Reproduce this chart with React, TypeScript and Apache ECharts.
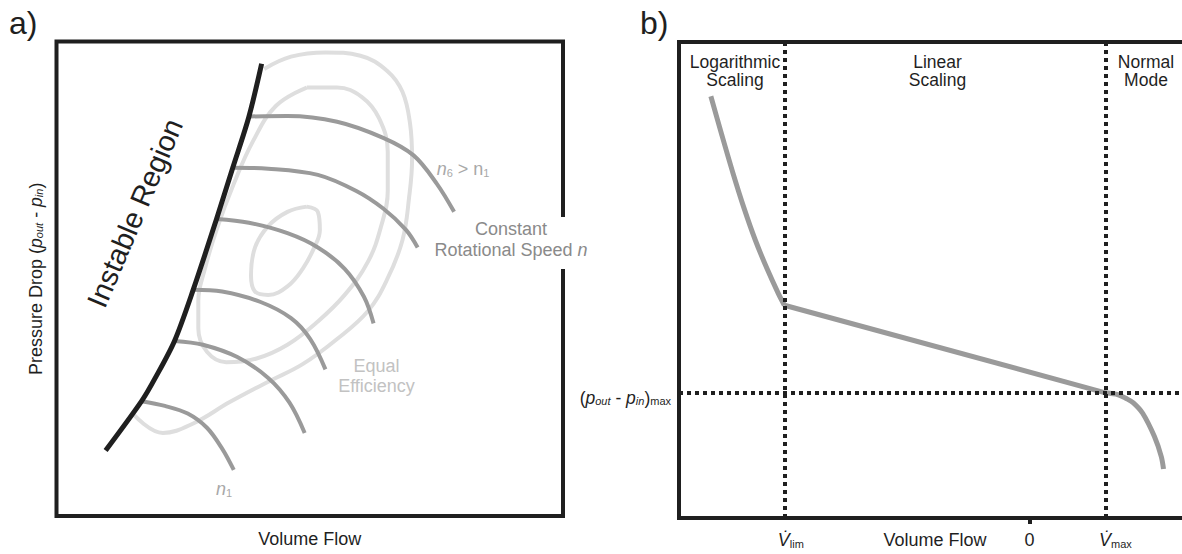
import React, { useEffect, useRef } from "react";
import * as echarts from "echarts";

const FONT = '"Liberation Sans", Arial, Helvetica, sans-serif';
const INK = "#1f1f1f";
const SPEED_GREY = "#9a9a9a";
const EFFICIENCY_GREY = "#dedede";

// ---- Panel a: compressor map (normalised volume flow 0–100, pressure drop 0–100)
const surgeLine: number[][] = [
  [40.5, 95.3], [38.0, 84.2], [34.8, 73.4], [31.6, 62.6], [27.0, 47.7],
  [23.3, 36.9], [19.5, 29.1], [16.8, 24.2], [9.7, 13.8],
];

const speedN1: number[][] = [[16.8, 24.2], [21.4, 23.2], [25.9, 21.6], [29.7, 18.6], [32.7, 14.2], [35.0, 9.7]];
const speedN2: number[][] = [[23.3, 36.9], [28.9, 36.1], [35.7, 33.5], [41.8, 29.1], [46.0, 23.9], [49.0, 17.5]];
const speedN3: number[][] = [[27.0, 47.7], [32.7, 47.3], [40.3, 45.1], [46.3, 41.7], [50.1, 37.3], [53.1, 30.9]];
const speedN4: number[][] = [[31.6, 62.6], [38.0, 61.8], [45.6, 59.6], [51.6, 56.6], [56.9, 52.1], [60.7, 46.2], [62.6, 40.6]];
const speedN5: number[][] = [[34.8, 73.4], [41.8, 73.2], [51.6, 71.9], [59.2, 68.5], [64.5, 64.8], [69.0, 60.3], [71.3, 56.6]];
const speedN6: number[][] = [[38.0, 84.2], [45.6, 84.3], [55.4, 83.1], [64.5, 79.7], [70.5, 76.0], [75.1, 70.0], [78.5, 64.1]];
const speedLines = [speedN1, speedN2, speedN3, speedN4, speedN5, speedN6];

const efficiencyInner: number[][] = [
  [49.4, 65.2], [51.6, 64.1], [52.0, 60.3], [50.9, 56.6], [48.6, 52.1], [45.6, 48.4],
  [41.8, 46.6], [39.2, 47.3], [38.4, 50.7], [39.2, 56.6], [41.8, 61.1], [45.6, 64.1], [49.4, 65.2],
];
const efficiencyMiddle: number[][] = [
  [49.4, 90.3], [55.4, 90.3], [60.3, 88.3], [63.7, 83.8], [65.4, 76.7], [65.4, 68.5],
  [64.1, 61.1], [61.5, 53.6], [56.9, 46.6], [51.6, 41.0], [45.6, 36.1], [39.5, 33.2],
  [33.5, 32.4], [29.7, 34.6], [28.0, 39.5], [28.0, 45.4], [29.3, 52.1], [31.6, 60.3],
  [35.0, 70.0], [38.8, 79.0], [43.3, 86.4], [49.4, 90.3],
];
const efficiencyOuter: number[][] = [
  [41.0, 94.2], [46.3, 96.8], [53.1, 97.7], [60.0, 97.0], [65.3, 93.8], [68.3, 89.4],
  [69.8, 82.7], [70.2, 75.2], [69.6, 67.0], [68.3, 58.1], [65.3, 49.9], [61.5, 43.2],
  [55.4, 37.3], [48.6, 32.0], [41.8, 28.3], [34.2, 24.0], [27.0, 19.5], [21.0, 17.5], [15.3, 21.3],
];
const efficiencyLines = [efficiencyOuter, efficiencyMiddle, efficiencyInner];

// ---- Panel b: pressure set-point over volume flow
const flowLim = -100;
const flowZero = 0;
const flowMax = 31;
const pressureMax = 26.3;

const logBranch: number[][] = [
  [-130.0, 88.6], [-125.6, 80.6], [-121.0, 72.5], [-116.4, 65.0], [-111.8, 58.3],
  [-107.1, 52.4], [-102.5, 47.2], [-100.0, 44.7],
];
const linearBranch: number[][] = [[-100.0, 44.7], [31.0, 26.3]];
const normalBranch: number[][] = [
  [31.0, 26.3], [36.2, 25.9], [39.5, 25.1], [42.4, 24.2], [46.2, 22.0], [51.0, 17.1], [53.8, 12.9], [54.7, 10.3],
];

const regionLabels = ["Logarithmic\nScaling", "Linear\nScaling", "Normal\nMode"];
// a leading spacer keeps the V itself centred on its tick
const flowTickNames: Record<number, string> = {
  [flowLim]: "{gl|}{v|V\u0307}{s|lim}",
  [flowZero]: "{n|0}",
  [flowMax]: "{gm|}{v|V\u0307}{s|max}",
};

const subRich = {
  i: { fontFamily: FONT, fontSize: 17.5, fontStyle: "italic" as const, color: INK },
  s: { fontFamily: FONT, fontSize: 11, fontStyle: "italic" as const, color: INK, verticalAlign: "bottom" as const, lineHeight: 9 },
  m: { fontFamily: FONT, fontSize: 11, color: INK, verticalAlign: "bottom" as const, lineHeight: 9 },
  t: { fontFamily: FONT, fontSize: 17.5, color: INK },
};

function curve(data: number[][], color: string, width: number, grid: number, z: number, smooth: number | boolean = 0.35) {
  return {
    type: "line" as const,
    data,
    xAxisIndex: grid,
    yAxisIndex: grid,
    smooth,
    symbol: "none",
    silent: true,
    z,
    lineStyle: { color, width, cap: "butt" as const, join: "round" as const },
  };
}

export default function App() {
  const ref = useRef<HTMLDivElement>(null);

  useEffect(() => {
    if (!ref.current) return;
    const chart = echarts.init(ref.current, undefined, { renderer: "svg" });

    const greyRich = (color: string) => ({
      i: { fontFamily: FONT, fontSize: 18, fontStyle: "italic" as const, fill: color },
      s: { fontFamily: FONT, fontSize: 11, fill: color, verticalAlign: "bottom" as const, lineHeight: 9 },
      t: { fontFamily: FONT, fontSize: 18, fill: color },
    });

    chart.setOption({
      animation: false,
      backgroundColor: "#ffffff",
      textStyle: { fontFamily: FONT },
      grid: [
        {
          left: 56.5, top: 41.5, width: 506.5, height: 474.5, outerBoundsMode: "none",
          show: true, borderColor: INK, borderWidth: 4, backgroundColor: "transparent",
        },
        {
          // the right-hand frame of panel b runs past the edge of the canvas
          left: 679, top: 42, width: 522, height: 476, outerBoundsMode: "none",
          show: true, borderColor: INK, borderWidth: 4, backgroundColor: "transparent",
        },
      ],
      xAxis: [
        {
          gridIndex: 0, type: "value", min: 0, max: 100,
          axisLine: { show: false }, axisTick: { show: false }, axisLabel: { show: false }, splitLine: { show: false },
          name: "Volume Flow", nameLocation: "middle", nameGap: 14,
          nameTextStyle: { fontFamily: FONT, fontSize: 18, color: INK },
        },
        {
          gridIndex: 1, type: "value", min: -143, max: 70,
          axisLine: { show: false },
          axisTick: { show: true, customValues: [flowZero], length: 6, lineStyle: { color: INK, width: 4 } },
          axisLabel: {
            show: true, customValues: [flowLim, flowZero, flowMax], margin: 13,
            formatter: (v: number) => flowTickNames[v] ?? "",
            rich: {
              gl: { width: 13 },
              gm: { width: 20 },
              v: { fontFamily: FONT, fontSize: 18, fontStyle: "italic", color: INK },
              s: { fontFamily: FONT, fontSize: 11, color: INK, verticalAlign: "bottom", lineHeight: 9 },
              n: { fontFamily: FONT, fontSize: 18, color: INK },
            },
          },
          splitLine: { show: false },
          name: "Volume Flow", nameLocation: "middle", nameGap: 13, nameMoveOverlap: false,
          nameTextStyle: { fontFamily: FONT, fontSize: 18, color: INK, padding: [0, 10, 0, 0] },
        },
      ],
      yAxis: [
        {
          gridIndex: 0, type: "value", min: 0, max: 100,
          axisLine: { show: false }, axisTick: { show: false }, axisLabel: { show: false }, splitLine: { show: false },
          name: "Pressure Drop ({i|p}{s|out} - {i|p}{s|in})", nameLocation: "middle", nameGap: 12,
          nameTextStyle: { fontFamily: FONT, fontSize: 18, color: INK, rich: subRich },
        },
        {
          gridIndex: 1, type: "value", min: 0, max: 100,
          axisLine: { show: false }, axisTick: { show: false }, splitLine: { show: false },
          axisLabel: {
            show: true, customValues: [pressureMax], margin: 8, padding: [10, 0, 0, 0],
            formatter: () => "{t|(}{i|p}{s|out}{t| - }{i|p}{s|in}{t|)}{m|max}",
            rich: subRich,
          },
        },
      ],
      series: [
        ...efficiencyLines.map((d) => curve(d, EFFICIENCY_GREY, 4, 0, 2, 0.4)),
        ...speedLines.map((d) => curve(d, SPEED_GREY, 4, 0, 3, 0.35)),
        curve(surgeLine, INK, 5, 0, 4, 0.3),
        curve(logBranch, SPEED_GREY, 5, 1, 3, 0.3),
        {
          ...curve(linearBranch, SPEED_GREY, 5, 1, 3, false),
          markLine: {
            silent: true,
            symbol: ["none", "none"],
            label: { show: false },
            lineStyle: { color: INK, width: 4, type: [4, 4], cap: "butt" },
            data: [{ xAxis: flowLim }, { xAxis: flowMax }, { yAxis: pressureMax }],
          },
        },
        curve(normalBranch, SPEED_GREY, 5, 1, 3, 0.3),
      ],
      graphic: [
        // opening in the right frame of panel a
        { type: "rect", z: 100, shape: { x: 558, y: 217, width: 12, height: 52 }, style: { fill: "#ffffff" } },
        { type: "text", z: 101, x: 9, y: 23, style: { text: "a)", font: `32px ${FONT}`, fill: INK, verticalAlign: "middle" } },
        { type: "text", z: 101, x: 640, y: 23, style: { text: "b)", font: `32px ${FONT}`, fill: INK, verticalAlign: "middle" } },
        {
          type: "text", z: 101, x: 135, y: 213, rotation: (67 * Math.PI) / 180,
          style: { text: "Instable Region", font: `29px ${FONT}`, fill: INK, align: "center", verticalAlign: "middle" },
        },
        {
          type: "text", z: 101, x: 511, y: 239,
          style: {
            text: "{t|Constant}\n{t|Rotational Speed }{i|n}", align: "center", verticalAlign: "middle",
            rich: {
              t: { fontFamily: FONT, fontSize: 18, fill: "#8a8a8a", lineHeight: 21 },
              i: { fontFamily: FONT, fontSize: 18, fontStyle: "italic", fill: "#8a8a8a", lineHeight: 21 },
            },
          },
        },
        {
          type: "text", z: 101, x: 463, y: 169,
          style: { text: "{i|n}{s|6}{t| > n}{s|1}", align: "center", verticalAlign: "middle", rich: greyRich("#a8a8a8") },
        },
        {
          type: "text", z: 101, x: 376.5, y: 376,
          style: { text: "Equal\nEfficiency", font: `18px ${FONT}`, fill: "#c2c2c2", align: "center", verticalAlign: "middle", lineHeight: 20 },
        },
        {
          type: "text", z: 101, x: 224, y: 489,
          style: { text: "{i|n}{s|1}", align: "center", verticalAlign: "middle", rich: greyRich("#a8a8a8") },
        },
        ...regionLabels.map((label, k) => ({
          type: "text", z: 101, x: [735, 937.5, 1146][k], y: 71,
          style: { text: label, font: `17.5px ${FONT}`, fill: INK, align: "center", verticalAlign: "middle", lineHeight: 18.5 },
        })),
      ],
    });

    return () => chart.dispose();
  }, []);

  return <div ref={ref} style={{ position: "absolute", left: 0, top: 0, width: 1182, height: 554 }} />;
}
